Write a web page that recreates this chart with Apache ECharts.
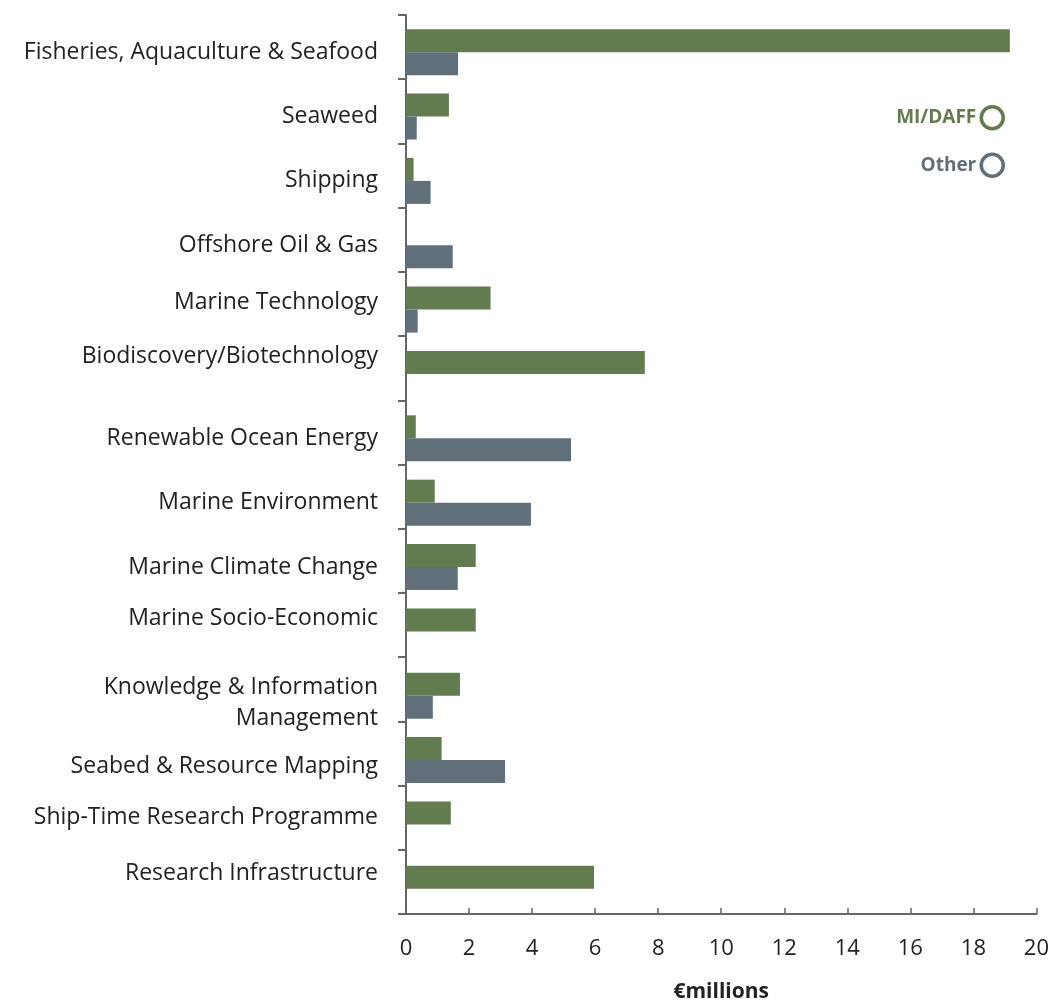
<!DOCTYPE html>
<html><head><meta charset="utf-8">
<script src="https://cdn.jsdelivr.net/npm/echarts@6/dist/echarts.min.js"></script>
<style>html,body{margin:0;padding:0;background:#fff}#c{width:1052px;height:1008px}</style>
</head><body><div id="c"></div>
<script>
const categories = ["Fisheries, Aquaculture & Seafood","Seaweed","Shipping","Offshore Oil & Gas","Marine Technology","Biodiscovery/Biotechnology","Renewable Ocean Energy","Marine Environment","Marine Climate Change","Marine Socio-Economic","Knowledge & Information\nManagement","Seabed & Resource Mapping","Ship-Time Research Programme","Research Infrastructure"];
const miDaff = [19.14,1.36,0.24,0,2.68,7.57,0.31,0.91,2.21,2.21,1.71,1.13,1.42,5.96];
const other = [1.65,0.34,0.78,1.48,0.37,0,5.23,3.96,1.64,0,0.85,3.14,0,0];
const xTicks = [0,2,4,6,8,10,12,14,16,18,20];
const GREEN = '#627c4f', GRAY = '#606f7a';
const FONT = '"Open Sans", "Noto Sans", sans-serif';
// vertical nudges (px, negative = up) for individual category labels
const labelNudge = {4:-7,5:-18,9:-13,10:7,11:6,12:-7,13:-15};
const rich = {};
Object.keys(labelNudge).forEach(k=>{
  const d = labelNudge[k];
  rich['n'+k] = {fontFamily:FONT,fontSize:23,color:'#222',lineHeight:31,align:'right',
    padding: d<0 ? [0,0,-2*d,0] : [2*d,0,0,0]};
});
const chart = echarts.init(document.getElementById('c'), null, {renderer:'canvas'});
chart.setOption({
  animation:false,
  grid:[
    {left:406,right:15,top:15,bottom:92,containLabel:false},
    {left:406,right:15,top:20,bottom:87,containLabel:false}
  ],
  legend:{
    orient:'vertical', right:42, top:100, align:'right', itemGap:22,
    itemWidth:22, itemHeight:22, icon:'circle',
    textStyle:{fontFamily:FONT,fontSize:19,fontWeight:'bold'},
    data:[
      {name:'MI/DAFF',itemStyle:{color:'#fff',borderColor:GREEN,borderWidth:3.5},textStyle:{color:GREEN}},
      {name:'Other',itemStyle:{color:'#fff',borderColor:GRAY,borderWidth:3.5},textStyle:{color:GRAY}}
    ]
  },
  xAxis:[{
    gridIndex:0, type:'value', min:xTicks[0], max:xTicks[xTicks.length-1], interval:2,
    name:'€millions', nameLocation:'middle', nameGap:68,
    nameTextStyle:{fontFamily:FONT,fontSize:21,fontWeight:'bold',color:'#222'},
    axisLine:{show:true,lineStyle:{color:'#666',width:2}},
    axisTick:{show:true,inside:true,length:6,lineStyle:{color:'#666',width:1.5}},
    axisLabel:{fontFamily:FONT,fontSize:22,color:'#222',margin:24},
    splitLine:{show:false}
  },{
    gridIndex:1, type:'value', min:xTicks[0], max:xTicks[xTicks.length-1], interval:2, show:false
  }],
  yAxis:[{
    gridIndex:0, type:'category', inverse:true, data:categories,
    axisLine:{show:true,lineStyle:{color:'#666',width:2}},
    axisTick:{show:true,length:8,lineStyle:{color:'#666',width:2}},
    axisLabel:{show:false}
  },{
    gridIndex:1, type:'category', inverse:true, data:categories,
    axisLine:{show:false}, axisTick:{show:false},
    axisLabel:{fontFamily:FONT,fontSize:23,color:'#222',margin:28,align:'right',lineHeight:31,rich:rich,
      formatter:(v,i)=> labelNudge[i]!==undefined ? v.split('\n').map(s=>'{n'+i+'|'+s+'}').join('\n') : v}
  }],
  series:[
    {name:'MI/DAFF',type:'bar',xAxisIndex:1,yAxisIndex:1,data:miDaff,barWidth:23,barGap:'0%',itemStyle:{color:GREEN}},
    {name:'Other',type:'bar',xAxisIndex:1,yAxisIndex:1,data:other,barWidth:23,barGap:'0%',itemStyle:{color:GRAY}}
  ]
});
</script></body></html>
